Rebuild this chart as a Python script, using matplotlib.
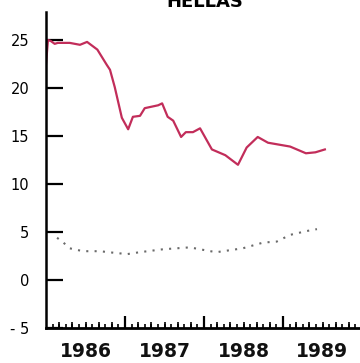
import matplotlib
matplotlib.use("Agg")
import matplotlib.pyplot as plt

# ---------------- data ----------------
red_x = [1986.00, 1986.025, 1986.06, 1986.11, 1986.15, 1986.30, 1986.43, 1986.52,
         1986.65, 1986.77, 1986.81, 1986.87, 1986.96, 1987.04, 1987.10, 1987.19,
         1987.25, 1987.42, 1987.47, 1987.54, 1987.61, 1987.71, 1987.77, 1987.86,
         1987.95, 1988.10, 1988.27, 1988.43, 1988.54, 1988.68, 1988.81, 1989.09,
         1989.29, 1989.41, 1989.53]
red_y = [22.5, 25.0, 24.9, 24.6, 24.7, 24.7, 24.5, 24.8,
         24.0, 22.4, 21.9, 20.1, 16.9, 15.7, 17.0, 17.1,
         17.9, 18.2, 18.4, 17.0, 16.6, 14.9, 15.4, 15.4,
         15.8, 13.6, 13.0, 12.0, 13.8, 14.9, 14.3, 13.9,
         13.2, 13.3, 13.6]

dot_x = [1986.14, 1986.22, 1986.30, 1986.47, 1986.68, 1986.90, 1987.03, 1987.19,
         1987.48, 1987.82, 1988.08, 1988.16, 1988.49, 1988.75, 1988.92, 1989.09,
         1989.30, 1989.43]
dot_y = [4.4, 3.9, 3.3, 3.0, 3.0, 2.8, 2.7, 2.9,
         3.2, 3.4, 3.0, 2.9, 3.3, 3.9, 4.0, 4.7,
         5.1, 5.3]

years = [1986, 1987, 1988, 1989]
y_ticks = [-5, 0, 5, 10, 15, 20, 25]

# ---------------- plot ----------------
fig = plt.figure(figsize=(3.6, 3.63), dpi=100)
ax = fig.add_axes([46 / 360, 1 - 328 / 363, 1 - 46 / 360, (328 - 12) / 363])

ax.plot(red_x, red_y, color="#c22d5a", lw=1.6, solid_joinstyle="round")
ax.plot(dot_x, dot_y, color="#6a6a6a", lw=1.5, linestyle=(0, (1, 3)))

ax.set_xlim(1986, 1986 + (360 - 46) / 79)
ax.set_ylim(-5, 25 + 28 / 9.6)

for s in ["top", "right"]:
    ax.spines[s].set_visible(False)
ax.spines["left"].set_linewidth(1.8)
ax.spines["bottom"].set_linewidth(2.0)

ax.set_yticks(y_ticks)
ax.set_yticklabels([str(v) if v >= 0 else "- 5" for v in y_ticks],
                   fontsize=10.5, family="DejaVu Sans")
ax.tick_params(axis="y", direction="in", length=12, width=1.6, pad=12)

# year boundaries as major ticks, monthly minor ticks, labels centred in each year
ax.set_xticks([y + 1 for y in years[:-1]])
ax.set_xticklabels([])
ax.tick_params(axis="x", which="major", direction="in", length=8.5, width=1.6)
ax.set_xticks([y + m / 12 for y in years for m in range(1, 12)], minor=True)
ax.tick_params(axis="x", which="minor", direction="in", length=3, width=1.2)

sec = ax.secondary_xaxis("bottom")
sec.set_xticks([y + m / 12 for y in years for m in range(2, 12, 2)])
sec.set_xticklabels([])
sec.tick_params(direction="in", length=4.5, width=1.2)
sec.spines["bottom"].set_visible(False)

for y in years:
    ax.text(y + 0.5, -5 - 14 / 9.6, str(y), ha="center", va="top",
            fontsize=13.5, fontweight="bold", family="DejaVu Sans",
            color="#111111")

fig.text(205 / 360, 1 - 7 / 363, "HELLAS", ha="center", va="baseline",
         fontsize=13, fontweight="bold")

fig.savefig("out.png", dpi=100)
